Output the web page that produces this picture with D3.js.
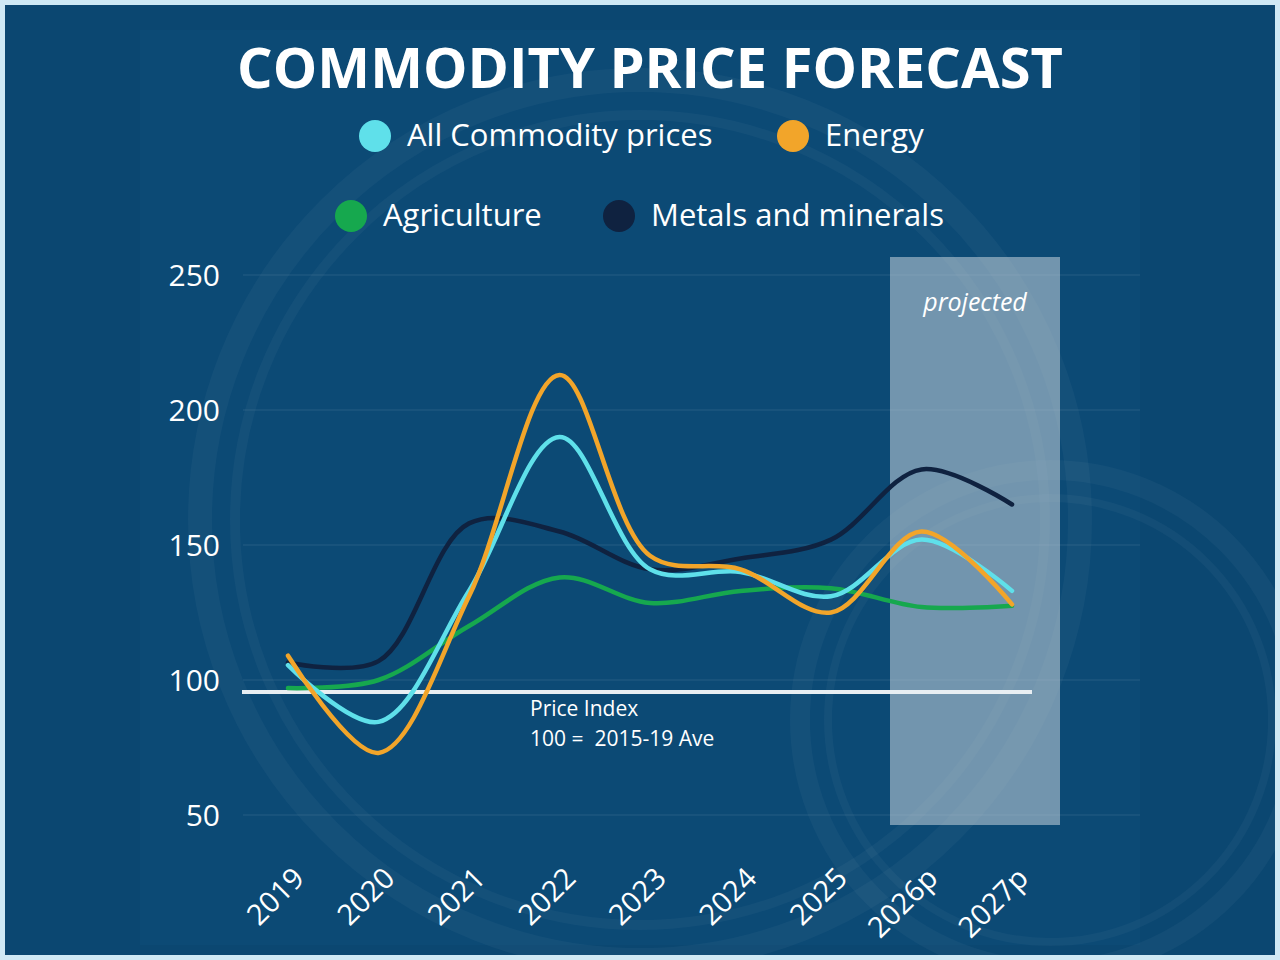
<!DOCTYPE html>
<html><head><meta charset="utf-8">
<script src="https://cdn.jsdelivr.net/npm/d3@7"></script>
<style>body{margin:0;background:#cfe9f5}</style></head>
<body><svg id="c" width="1280" height="960"></svg>
<script>
const years = ["2019","2020","2021","2022","2023","2024","2025","2026p","2027p"];
const allCommodity = [105.5,84.5,133,190,141,140,131,152,133];
const energy = [109,73,131,213,146,141,125,155,128];
const agriculture = [97,100,120,138,128.5,133,134,127,127.5];
const metals = [106.5,107,158,155,141,145,152,178,165];
const yTicks = [50,100,150,200,250];
const seriesNames = ["All Commodity prices","Energy","Agriculture","Metals and minerals"];
const colors = ["#5fe0ea","#f2a52a","#16a84e","#0f2240"];

const svg = d3.select("#c");
svg.append("rect").attr("x",5).attr("y",5).attr("width",1270).attr("height",950).attr("fill","#0b4771");
svg.append("rect").attr("x",140).attr("y",30).attr("width",1000).attr("height",915).attr("fill","#0c4a75");
const deco = svg.append("g").attr("fill","none").attr("stroke","#ffffff").attr("stroke-opacity",0.035);
[[640,520,440,24],[640,520,405,10],[1050,720,250,20],[1050,720,222,8]].forEach(([cx,cy,r,w])=>{
  deco.append("circle").attr("cx",cx).attr("cy",cy).attr("r",r).attr("stroke-width",w);
});

const x = d3.scalePoint().domain(years).range([288,1012]);
const y = d3.scaleLinear().domain([50,250]).range([815,275]);

svg.append("g").selectAll("line").data(yTicks).join("line")
  .attr("x1",243).attr("x2",1140).attr("y1",d=>y(d)).attr("y2",d=>y(d))
  .attr("stroke","#ffffff").attr("stroke-opacity",0.1);

svg.append("rect").attr("x",890).attr("y",257).attr("width",170).attr("height",568)
  .attr("fill","#c6d4dc").attr("opacity",0.55);
svg.append("text").attr("x",975).attr("y",311).attr("text-anchor","middle")
  .attr("font-family","Open Sans").attr("font-style","italic").attr("font-size",25).attr("fill","#fff").text("projected");

svg.append("g").selectAll("text").data(yTicks).join("text")
  .attr("x",220).attr("y",d=>y(d)+11).attr("text-anchor","end")
  .attr("font-family","Open Sans").attr("font-size",30).attr("fill","#fff").text(d=>d);

svg.append("line").attr("x1",242).attr("x2",1032).attr("y1",692).attr("y2",692)
  .attr("stroke","#e8eef2").attr("stroke-width",4);
svg.append("text").attr("x",530).attr("y",716).attr("font-family","Open Sans").attr("font-size",21).attr("fill","#fff").text("Price Index");
svg.append("text").attr("x",530).attr("y",746).attr("font-family","Open Sans").attr("font-size",21).attr("fill","#fff").attr("xml:space","preserve").text("100 =  2015-19 Ave");

const line = d3.line().x((d,i)=>x(years[i])).y(d=>y(d)).curve(d3.curveCatmullRom.alpha(0.5));
const data = [agriculture, metals, allCommodity, energy];
const dcol = [colors[2],colors[3],colors[0],colors[1]];
data.forEach((s,k)=>{
  svg.append("path").attr("d",line(s)).attr("fill","none").attr("stroke",dcol[k]).attr("stroke-width",4.5).attr("stroke-linecap","round");
});

svg.append("g").selectAll("text").data(years).join("text")
  .attr("transform",d=>`translate(${x(d)+18},${880}) rotate(-45)`)
  .attr("text-anchor","end").attr("font-family","Open Sans").attr("font-size",29).attr("fill","#fff").text(d=>d);

svg.append("text").attr("x",650).attr("y",88).attr("text-anchor","middle")
  .attr("font-family","Open Sans").attr("font-weight",700).attr("font-size",56).attr("fill","#fff").text("COMMODITY PRICE FORECAST");

const leg = [[375,136,0],[793,136,1],[351,216,2],[619,216,3]];
leg.forEach(([lx,ly,i])=>{
  svg.append("circle").attr("cx",lx).attr("cy",ly).attr("r",16).attr("fill",colors[i]);
  svg.append("text").attr("x",lx+32).attr("y",ly+10).attr("font-family","Open Sans").attr("font-size",31).attr("fill","#fff").text(seriesNames[i]);
});
</script></body></html>
